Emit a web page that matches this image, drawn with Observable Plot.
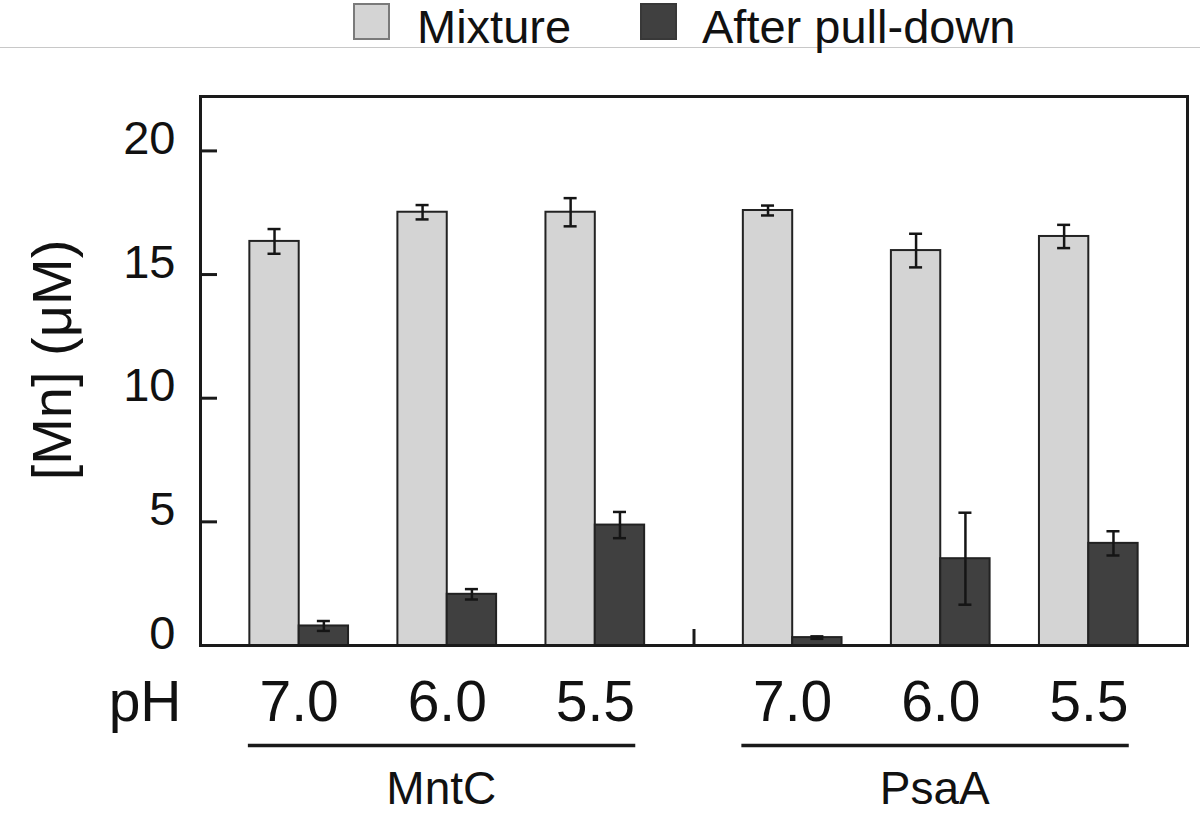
<!DOCTYPE html>
<html>
<head>
<meta charset="utf-8">
<script src="https://cdn.jsdelivr.net/npm/d3@7"></script>
<script src="https://cdn.jsdelivr.net/npm/@observablehq/plot@0.6"></script>
<style>
  html, body { margin: 0; padding: 0; background: #fff; }
  body { font-family: "Liberation Sans", Arial, Helvetica, sans-serif; color: #111; width: 1200px; height: 814px; overflow: hidden; }
  #legend { position: relative; height: 47px; border-bottom: 1px solid #c8c8c8; }
  .sw { position: absolute; top: 3px; width: 33px; height: 33px; }
  .lt { position: absolute; top: 3px; font-size: 47px; line-height: 47px; white-space: nowrap; color: #111; }
  #chart svg { display: block; }
</style>
</head>
<body>
<div id="legend"></div>
<div id="chart"></div>
<script>
// ---- data ----
const proteins = ["MntC", "PsaA"];
const phLabels = ["7.0", "6.0", "5.5"];
const seriesNames = ["Mixture", "After pull-down"];
const seriesColors = ["#d4d4d4", "#404040"];
// order: MntC 7.0, 6.0, 5.5, PsaA 7.0, 6.0, 5.5
const mixtureMean   = [16.34, 17.52, 17.52, 17.59, 15.97, 16.54];
const mixtureErr    = [0.50, 0.29, 0.57, 0.20, 0.68, 0.47];
const pulldownMean  = [0.79, 2.07, 4.87, 0.32, 3.51, 4.13];
const pulldownErr   = [0.20, 0.21, 0.53, 0.05, 1.86, 0.49];
const yTicks = [0, 5, 10, 15, 20];
const yTitle = "[Mn] (\u03bcM)";
const xPrefix = "pH";

// ---- layout (slot units) ----
const leadGap = 1, groupStride = 3, proteinStride = 10, xMax = 20;
const capHalf = 0.132;

const rows = [];
const phRows = [];
proteins.forEach((p, pi) => {
  phLabels.forEach((ph, i) => {
    const k = pi * phLabels.length + i;
    const start = leadGap + pi * proteinStride + i * groupStride;
    rows.push({series: seriesNames[0], x1: start, x2: start + 1, v: mixtureMean[k], e: mixtureErr[k]});
    rows.push({series: seriesNames[1], x1: start + 1, x2: start + 2, v: pulldownMean[k], e: pulldownErr[k]});
    phRows.push({x: start + 1, text: ph});
  });
});
rows.forEach(d => { d.mid = (d.x1 + d.x2) / 2; });
const groups = proteins.map((p, pi) => {
  const s = leadGap + pi * proteinStride;
  return {name: p, x1: s - 0.03, x2: s + 7.82, mid: s + 3.88};
});

// ---- legend ----
const legend = document.getElementById("legend");
const legendPos = [{sw: 353, tx: 417, border: "2px solid #7a7a7a"}, {sw: 640, tx: 702, border: "2px solid #383838"}];
seriesNames.forEach((name, i) => {
  const sw = document.createElement("div");
  sw.className = "sw";
  sw.style.left = legendPos[i].sw + "px";
  sw.style.background = seriesColors[i];
  sw.style.border = legendPos[i].border;
  legend.appendChild(sw);
  const t = document.createElement("div");
  t.className = "lt";
  t.style.left = legendPos[i].tx + "px";
  t.textContent = name;
  legend.appendChild(t);
});

// ---- chart ----
const FONT = "Liberation Sans, Arial, Helvetica, sans-serif";
const chart = Plot.plot({
  width: 1200,
  height: 766,
  marginTop: 48,
  marginBottom: 169,
  marginLeft: 200,
  marginRight: 13,
  style: {fontFamily: FONT, color: "#111", background: "#fff", overflow: "visible"},
  x: {type: "linear", domain: [0, xMax], axis: null},
  y: {domain: [0, 22.2], axis: null},
  color: {domain: seriesNames, range: seriesColors},
  marks: [
    Plot.rect(rows, {x1: "x1", x2: "x2", y1: 0, y2: "v", fill: "series", stroke: "#222", strokeWidth: 2}),
    Plot.ruleX(rows, {x: "mid", y1: d => d.v - d.e, y2: d => d.v + d.e, stroke: "#151515", strokeWidth: 2.5}),
    Plot.ruleY(rows, {x1: d => d.mid - capHalf, x2: d => d.mid + capHalf, y: d => d.v + d.e, stroke: "#151515", strokeWidth: 2.5}),
    Plot.ruleY(rows, {x1: d => d.mid - capHalf, x2: d => d.mid + capHalf, y: d => d.v - d.e, stroke: "#151515", strokeWidth: 2.5}),
    // inward y ticks
    Plot.axisY(yTicks, {tickSize: 17, dx: 17, tickFormat: () => "", stroke: "#1a1a1a", strokeWidth: 3, label: null}),
    // y tick labels
    Plot.axisY(yTicks, {tickSize: 0, tickPadding: 25, dy: -12, fontSize: 47, fontFamily: FONT, label: null}),
    // separator tick between proteins
    Plot.axisX([leadGap + 9], {tickSize: 16, dy: -16, tickFormat: () => "", stroke: "#1a1a1a", strokeWidth: 3, label: null}),
    Plot.frame({stroke: "#1a1a1a", strokeWidth: 3}),
    // y title
    Plot.text([yTitle], {frameAnchor: "left", dx: -130, dy: -11, rotate: -90, textAnchor: "middle", lineAnchor: "bottom", fontSize: 56, fontFamily: FONT, fill: "#111"}),
    // pH labels
    Plot.text(phRows, {x: "x", text: "text", frameAnchor: "bottom", lineAnchor: "bottom", dy: 75, fontSize: 57, fontFamily: FONT, fill: "#111"}),
    Plot.text([xPrefix], {frameAnchor: "bottom-left", textAnchor: "end", lineAnchor: "bottom", dx: -19, dy: 75, fontSize: 57, fontFamily: FONT, fill: "#111"}),
    // group underlines
    Plot.ruleY(groups, {x1: "x1", x2: "x2", y: 0, dy: 100, stroke: "#1a1a1a", strokeWidth: 3.5}),
    // protein names
    Plot.text(groups, {x: "mid", text: "name", frameAnchor: "bottom", lineAnchor: "bottom", dy: 158, fontSize: 46, fontFamily: FONT, fill: "#111"})
  ]
});
document.getElementById("chart").appendChild(chart);
</script>
</body>
</html>
